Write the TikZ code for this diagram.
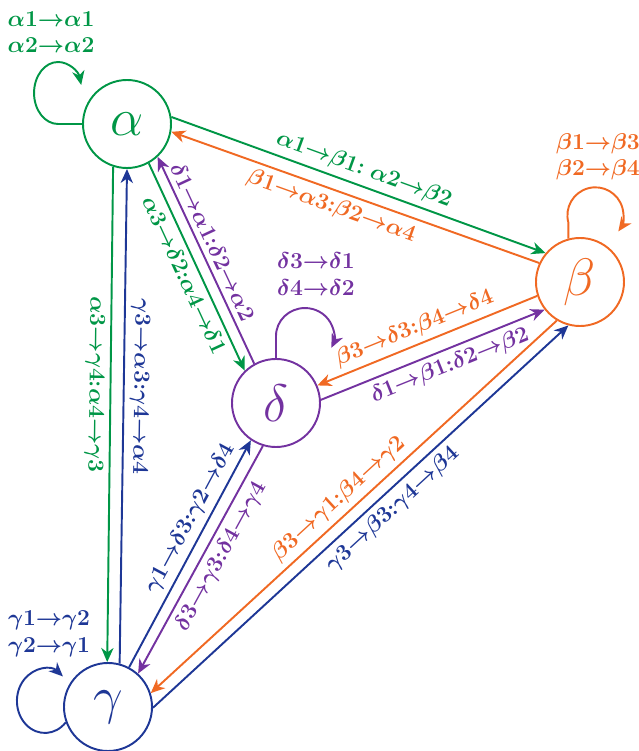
\RequirePackage{fix-cm}
\documentclass[tikz,border=0pt]{standalone}
\usetikzlibrary{arrows.meta}
\definecolor{stgreen}{RGB}{0,150,70}
\definecolor{storange}{RGB}{240,105,35}
\definecolor{stblue}{RGB}{30,55,150}
\definecolor{stpurple}{RGB}{115,50,160}

% one transition: a -> b, tightly set
\newcommand{\tr}[2]{#1{\to}#2}

\tikzset{
  state/.style={circle, draw=#1, text=#1, line width=1.1pt, minimum size=1.76cm,
    inner sep=0pt, font=\fontsize{30}{30}\selectfont},
  flow/.style={#1, line width=1.1pt},
  lbl/.style={font=\fontsize{13}{15}\selectfont\boldmath, sloped, allow upside down, inner sep=3pt},
  looplbl/.style={font=\fontsize{13}{15}\selectfont\boldmath, align=center, inner sep=1pt},
}

\begin{document}
\begin{tikzpicture}[x=0.2mm, y=0.2mm, >={Stealth[length=8pt, width=7pt, inset=2.5pt]}]
  \useasboundingbox (0,0) rectangle (639,751);

  % STATES
  \node[state=stgreen]  (alpha) at (127,627) {$\alpha$};
  \node[state=storange] (beta)  at (580,469) {$\beta$};
  \node[state=stpurple] (delta) at (276,348) {$\delta$};
  \node[state=stblue]   (gamma) at (108,44)  {$\gamma$};

  % self loops
  \draw[flow=stgreen, ->]  (alpha.west) -- ++(-24,0) arc[start angle=-90, end angle=-345, x radius=24, y radius=31];
  \draw[flow=storange, ->] (beta.105) -- ++(0,16) arc[start angle=195, end angle=-35, radius=28];
  \draw[flow=stpurple, ->] (delta.90) -- ++(0,22) arc[start angle=180, end angle=-25, x radius=29, y radius=28];
  \draw[flow=stblue, ->]   (gamma.200) arc[start angle=-42, end angle=-310, x radius=28, y radius=32];

  \node[looplbl, stgreen]  (alphaself) at (51,719)  {$\tr{\alpha1}{\alpha1}$\\$\tr{\alpha2}{\alpha2}$};
  \node[looplbl, storange] (betaself)  at (598,594) {$\tr{\beta1}{\beta3}$\\$\tr{\beta2}{\beta4}$};
  \node[looplbl, stpurple] (deltaself) at (316,477) {$\tr{\delta3}{\delta1}$\\$\tr{\delta4}{\delta2}$};
  \node[looplbl, stblue]   (gammaself) at (49,117)  {$\tr{\gamma1}{\gamma2}$\\$\tr{\gamma2}{\gamma1}$};

  % alpha -- beta
  \draw[flow=stgreen, ->]  (alpha.9)   -- node[lbl, above, pos=.5]  {$\tr{\alpha1}{\beta1}{:}\ \tr{\alpha2}{\beta2}$} (beta.140);
  \draw[flow=storange, <-] (alpha.-10) -- node[lbl, below, pos=.45] {$\tr{\beta1}{\alpha3}{:}\tr{\beta2}{\alpha4}$} (beta.155);

  % alpha -- delta
  \draw[flow=stgreen, ->]  (alpha.-61) -- node[lbl, below, pos=.51] {$\tr{\alpha3}{\delta2}{:}\tr{\alpha4}{\delta1}$} (delta.134);
  \draw[flow=stpurple, <-] (alpha.-47) -- node[lbl, above, pos=.44] {$\tr{\delta1}{\alpha1}{:}\tr{\delta2}{\alpha2}$} (delta.119);

  % alpha -- gamma
  \draw[flow=stgreen, ->]  (alpha.-108) -- node[lbl, below, pos=.44] {$\tr{\alpha3}{\gamma4}{:}\tr{\alpha4}{\gamma3}$} (gamma.91);
  \draw[flow=stblue, <-]   (alpha.-90)  -- node[lbl, above, pos=.44] {$\tr{\gamma3}{\alpha3}{:}\tr{\gamma4}{\alpha4}$} (gamma.75);

  % gamma -- delta
  \draw[flow=stblue, ->]   (gamma.62) -- node[lbl, above, pos=.62] {$\tr{\gamma1}{\delta3}{:}\tr{\gamma2}{\delta4}$} (delta.-124);
  \draw[flow=stpurple, <-] (gamma.48) -- node[lbl, below, pos=.55] {$\tr{\delta3}{\gamma3}{:}\tr{\delta4}{\gamma4}$} (delta.-107);

  % delta -- beta
  \draw[flow=storange, <-] (delta.23) -- node[lbl, above, pos=.47] {$\tr{\beta3}{\delta3}{:}\tr{\beta4}{\delta4}$} (beta.198);
  \draw[flow=stpurple, ->] (delta.4)  -- node[lbl, below, pos=.55] {$\tr{\delta1}{\beta1}{:}\tr{\delta2}{\beta2}$} (beta.218);

  % gamma -- beta
  \draw[flow=storange, <-] (gamma.18) -- node[lbl, above, pos=.49] {$\tr{\beta3}{\gamma1}{:}\tr{\beta4}{\gamma2}$} (beta.239);
  \draw[flow=stblue, ->]   (gamma.-1) -- node[lbl, below, pos=.55] {$\tr{\gamma3}{\beta3}{:}\tr{\gamma4}{\beta4}$} (beta.255);
\end{tikzpicture}
\end{document}
